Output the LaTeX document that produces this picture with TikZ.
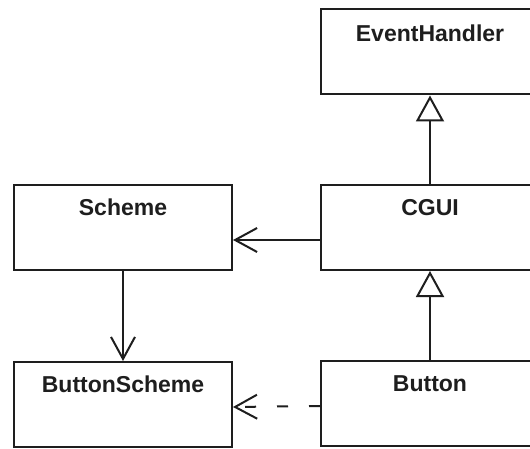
\documentclass[tikz,border=0pt]{standalone}
\usepackage{fontspec}
\setmainfont{Liberation Sans}
\usetikzlibrary{arrows.meta}
\definecolor{ink}{HTML}{1E1E1E}
\begin{document}
\begin{tikzpicture}[x=1pt,y=-1pt,
  classbox/.style={draw=ink, line width=2pt, rectangle, minimum width=218pt, minimum height=85pt, inner sep=0pt},
  classname/.style={anchor=base, font=\bfseries\fontsize{23}{23}\selectfont, text=ink, inner sep=0pt},
  conn/.style={draw=ink, line width=2pt},
  inherit/.style={conn, -{Triangle[open, length=26pt, width=28pt, line width=2pt, fill=white]}},
  assoc/.style={conn, -{Straight Barb[length=22pt, width=24pt, line width=2pt]}},
  depend/.style={assoc, dash pattern=on 11pt off 21pt}]
  \useasboundingbox (0,0) rectangle (530,449);
  \fill[white] (0,0) rectangle (530,449);

  % class boxes
  \node[classbox] (eh)   at (430,52)    {};
  \node[classbox] (sch)  at (123,227.5) {};
  \node[classbox] (cgui) at (430,227.5) {};
  \node[classbox] (bsch) at (123,404.5) {};
  \node[classbox] (btn)  at (430,403.5) {};

  % class names
  \node[classname] (ehname)   at ([yshift=-33pt]eh.north)   {EventHandler};
  \node[classname] (schname)  at ([yshift=-32pt]sch.north)  {Scheme};
  \node[classname] (cguiname) at ([yshift=-32pt]cgui.north) {CGUI};
  \node[classname] (bschname) at ([yshift=-31pt]bsch.north) {ButtonScheme};
  \node[classname] (btnname)  at ([yshift=-31pt]btn.north)  {Button};

  % relations
  \draw[inherit] (cgui.north) -- (eh.south);
  \draw[inherit] (btn.north) -- (cgui.south);
  \draw[assoc] ([yshift=-12.5pt]cgui.west) -- ([yshift=-12.5pt]sch.east);
  \draw[assoc] (sch.south) -- (bsch.north);
  \draw[depend] ([yshift=-2.5pt]btn.west) -- ([yshift=-2.5pt]bsch.east);
\end{tikzpicture}
\end{document}
